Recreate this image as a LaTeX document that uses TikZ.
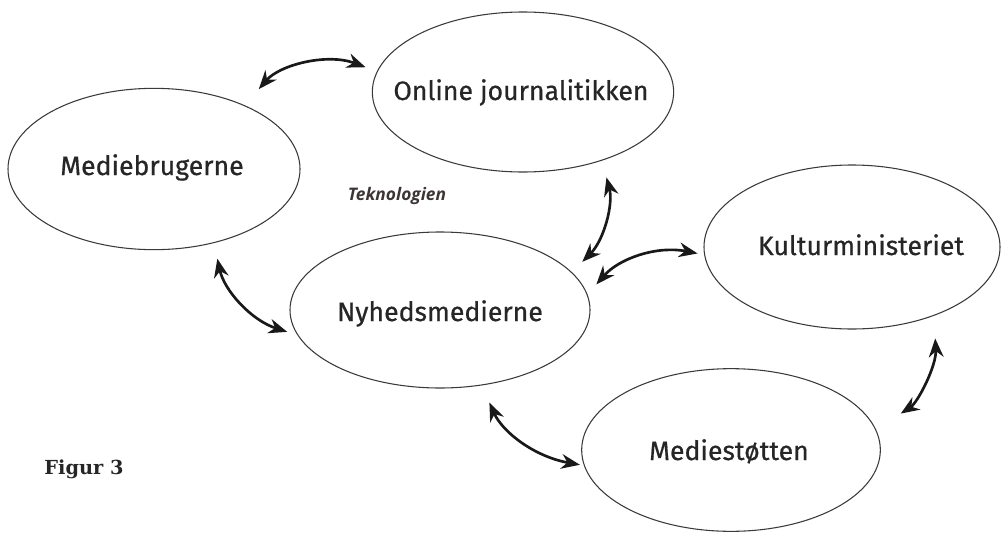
\documentclass[tikz,border=0pt]{standalone}
\usepackage{fontspec}
\setmainfont{Fira Sans}[FakeBold=0.6]
\newfontfamily\tekfont{Open Sans}
\newfontfamily\figfont{DejaVu Serif}
\usetikzlibrary{shapes.geometric,arrows.meta}
\definecolor{edge}{HTML}{3A3A3A}
\definecolor{tekcol}{HTML}{3D3535}
\tikzset{
  oval/.style={ellipse, draw=edge, line width=0.8pt, inner sep=0pt},
  lbl/.style={anchor=base, inner sep=0pt, font=\fontsize{20}{22}\selectfont, text=black!85},
  link/.style={line width=2pt, black!90, {Stealth[length=14pt,width=11pt]}-{Stealth[length=14pt,width=11pt]}},
}
\begin{document}
\begin{tikzpicture}[x=0.75pt,y=-0.75pt]
\useasboundingbox (0,0) rectangle (1003,532);
\node[oval, minimum width=219pt, minimum height=121pt] (med) at (154,169) {};
\node[oval, minimum width=226pt, minimum height=120pt] (onl) at (523,92) {};
\node[oval, minimum width=225pt, minimum height=117pt] (nyh) at (440,310) {};
\node[oval, minimum width=222pt, minimum height=123pt] (kul) at (852,247) {};
\node[oval, minimum width=224pt, minimum height=122pt] (sto) at (731,450) {};
\node[lbl] (medT) at (152,175) {Mediebrugerne};
\node[lbl] (onlT) at (521,100) {Online journalitikken};
\node[lbl] (nyhT) at (440,321) {Nyhedsmedierne};
\node[lbl] (kulT) at (861,255) {Kulturministeriet};
\node[lbl] (stoT) at (729,460) {Mediestøtten};
\node[font=\tekfont\fontsize{13}{15}\selectfont\bfseries\itshape, text=tekcol] (tek) at (397,196) {Teknologien};
\node[font=\figfont\bfseries\fontsize{14.5}{16}\selectfont, text=black!85] (fig) at (84,469) {Figur 3};
\draw[link, shorten <=16pt, shorten >=9pt] (med.35) to[bend left=35] (onl.172);
\draw[link, shorten <=13pt, shorten >=11pt] (onl.-41) to[bend left=30] (nyh.16);
\draw[link, shorten <=10pt, shorten >=5pt] (nyh.6) to[bend left=30] (kul.183);
\draw[link, shorten <=12pt, shorten >=8pt] (med.-51) to[bend right=30] (nyh.190);
\draw[link, shorten <=14pt, shorten >=3pt] (nyh.-61) to[bend right=28] (sto.186);
\draw[link, shorten <=17pt, shorten >=22pt] (kul.-40) to[bend left=30] (sto.8);
\end{tikzpicture}
\end{document}
